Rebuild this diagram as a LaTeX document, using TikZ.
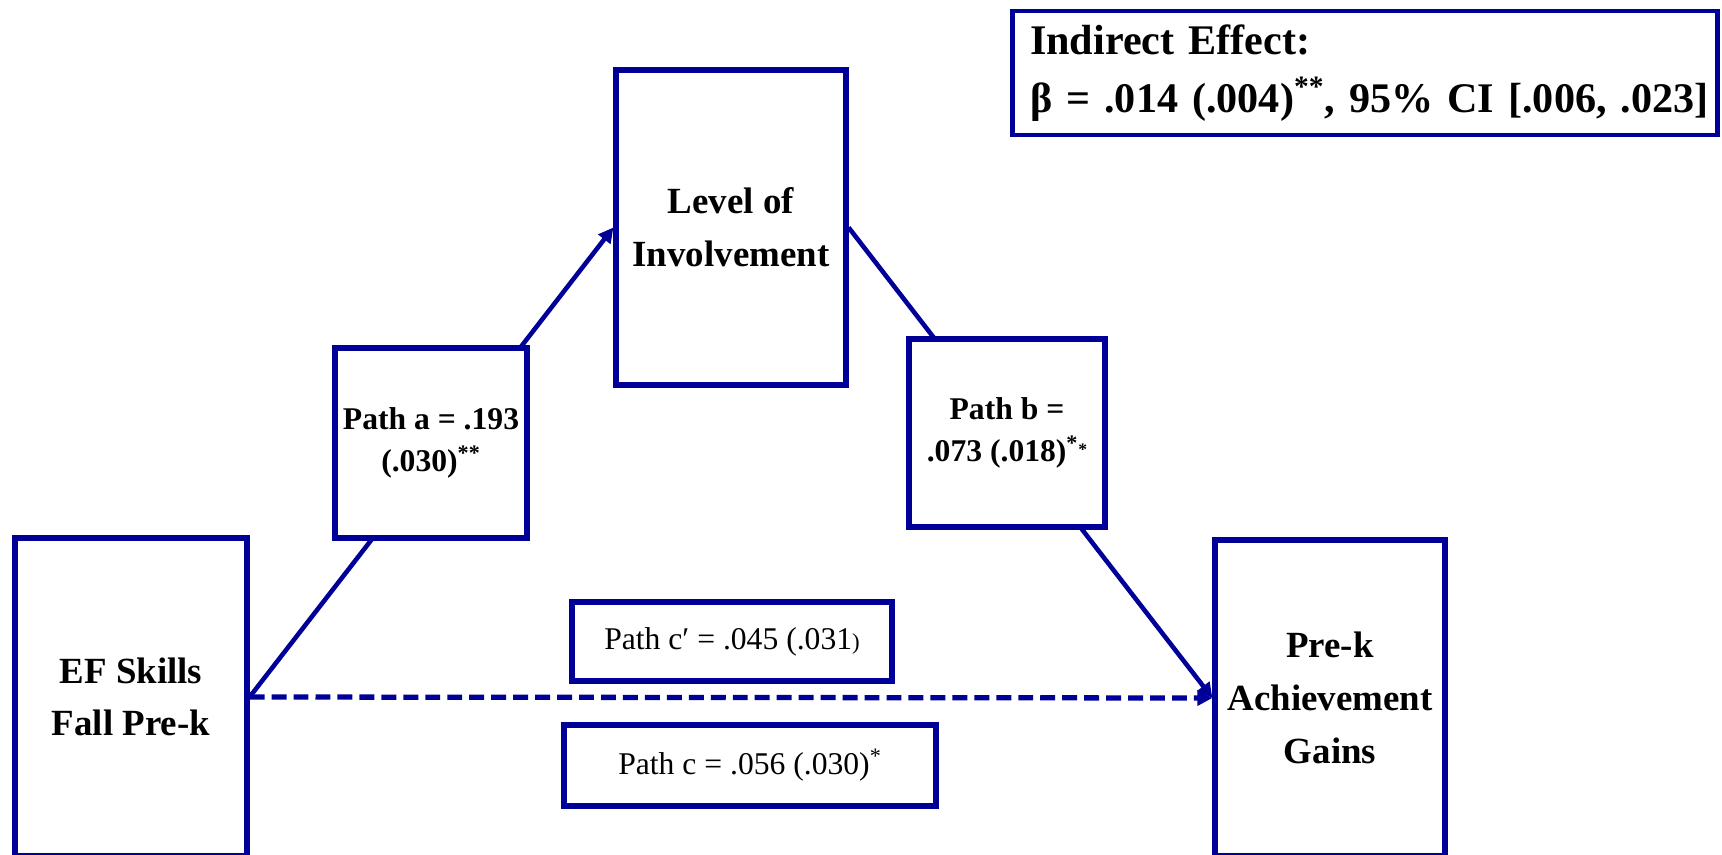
\documentclass[tikz,border=0pt]{standalone}
\usepackage{fontspec}
\setmainfont{Liberation Serif}
\usetikzlibrary{arrows.meta}
\definecolor{navy}{RGB}{0,0,153}
\tikzset{
  box/.style={draw=navy,line width=3pt,fill=white,align=center,inner sep=0pt,
    font=\fontsize{21}{30}\selectfont\bfseries},
  pathbox/.style={box,font=\fontsize{18}{24}\selectfont\bfseries},
  coefbox/.style={box,font=\fontsize{18}{24}\selectfont},
  arr/.style={draw=navy,line width=2.6pt,-{Triangle[length=8.5pt,width=8.5pt]}}
}

\begin{document}
\begin{tikzpicture}[x=0.02cm,y=-0.02cm]
\useasboundingbox (0,0) rectangle (1722,855);
\node[box,minimum width=4.64cm,minimum height=6.36cm](ef)at(131,697){EF Skills\\Fall Pre-k};
\node[box,minimum width=4.6cm,minimum height=6.3cm](loi)at(731,227.5){Level of\\Involvement};
\node[box,minimum width=4.6cm,minimum height=6.32cm](prek)at(1330,698){Pre-k\\Achievement\\Gains};
\draw[arr](ef.east)--(loi.west);
\draw[arr](loi.east)--(prek.west);
\draw[arr,line width=3pt,dash pattern=on 8.5pt off 4pt](ef.east)--(prek.west);
\node[pathbox,minimum width=3.84cm,minimum height=3.8cm](pa)at(431,443){Path a = .193\\(.030)\textsuperscript{**}};
\node[pathbox,minimum width=3.92cm,minimum height=3.76cm](pb)at(1007,433)
  {Path b =\\.073 (.018)\textsuperscript{*}\raisebox{0.2em}{\fontsize{10}{10}\selectfont *}};
\node[coefbox,minimum width=6.4cm,minimum height=1.58cm](pcp)at(732,641.5)
  {Path c′ = .045 (.031{\fontsize{13}{13}\selectfont)}};
\node[coefbox,minimum width=7.44cm,minimum height=1.62cm](pc)at(750,765.5)
  {Path c = .056 (.030)\textsuperscript{*}};
\node[box,line width=2.8pt,align=left,text width=13.4cm,inner xsep=0.36cm,minimum height=2.48cm,
  font=\fontsize{24}{33}\selectfont\bfseries](ind)at(1365,73)
  {Indirect Effect:\\\mbox{β = .014 (.004)\textsuperscript{**}, 95\% CI [.006, .023]}};
\end{tikzpicture}
\end{document}
